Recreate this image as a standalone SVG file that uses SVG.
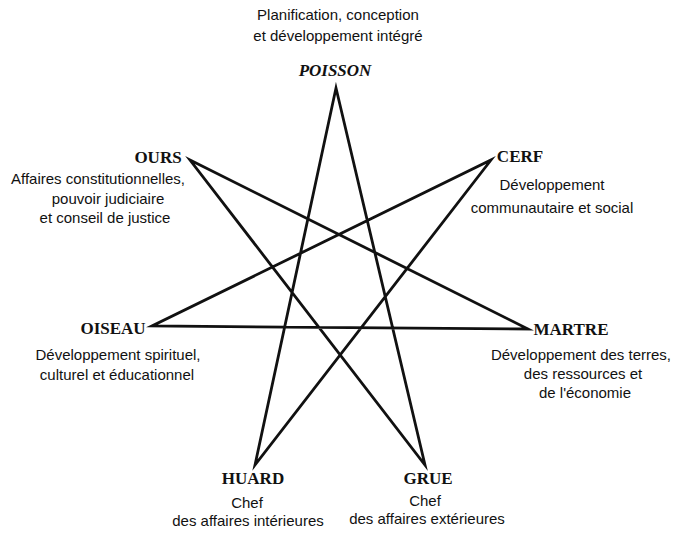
<svg xmlns="http://www.w3.org/2000/svg" width="677" height="536" viewBox="0 0 677 536">
<style>
.name{font-family:"Liberation Serif","Times New Roman",serif;font-weight:bold;font-size:17px;fill:#111;text-anchor:middle}
.it{font-style:italic}
.desc{font-family:"Liberation Sans",Arial,sans-serif;font-size:15px;fill:#111;text-anchor:middle}
.star{fill:none;stroke:#111;stroke-width:2.8;stroke-linejoin:miter;stroke-miterlimit:12}
</style>
<rect width="677" height="536" fill="#fff"/>
<g id="connectors">
<polygon class="star" points="336,88 425,465 190,160 528,329 152,326 491,160 255,465"/>
</g>
<g id="poisson">
<text class="desc" x="338" y="20">Planification, conception</text>
<text class="desc" x="338" y="41">et développement intégré</text>
<text class="name it" x="335" y="76">POISSON</text>
</g>
<g id="ours">
<text class="name" x="158" y="163">OURS</text>
<text class="desc" x="98" y="184">Affaires constitutionnelles,</text>
<text class="desc" x="108" y="204">pouvoir judiciaire</text>
<text class="desc" x="105" y="223">et conseil de justice</text>
</g>
<g id="cerf">
<text class="name" x="520" y="162">CERF</text>
<text class="desc" x="552" y="190">Développement</text>
<text class="desc" x="552" y="213">communautaire et social</text>
</g>
<g id="oiseau">
<text class="name" x="113" y="334">OISEAU</text>
<text class="desc" x="118" y="360">Développement spirituel,</text>
<text class="desc" x="117" y="380">culturel et éducationnel</text>
</g>
<g id="martre">
<text class="name" x="571" y="335">MARTRE</text>
<text class="desc" x="581" y="360">Développement des terres,</text>
<text class="desc" x="583" y="379">des ressources et</text>
<text class="desc" x="585" y="398">de l'économie</text>
</g>
<g id="huard">
<text class="name" x="253" y="484">HUARD</text>
<text class="desc" x="247" y="508">Chef</text>
<text class="desc" x="248" y="526">des affaires intérieures</text>
</g>
<g id="grue">
<text class="name" x="428" y="484">GRUE</text>
<text class="desc" x="425" y="506">Chef</text>
<text class="desc" x="427" y="524">des affaires extérieures</text>
</g>
</svg>
